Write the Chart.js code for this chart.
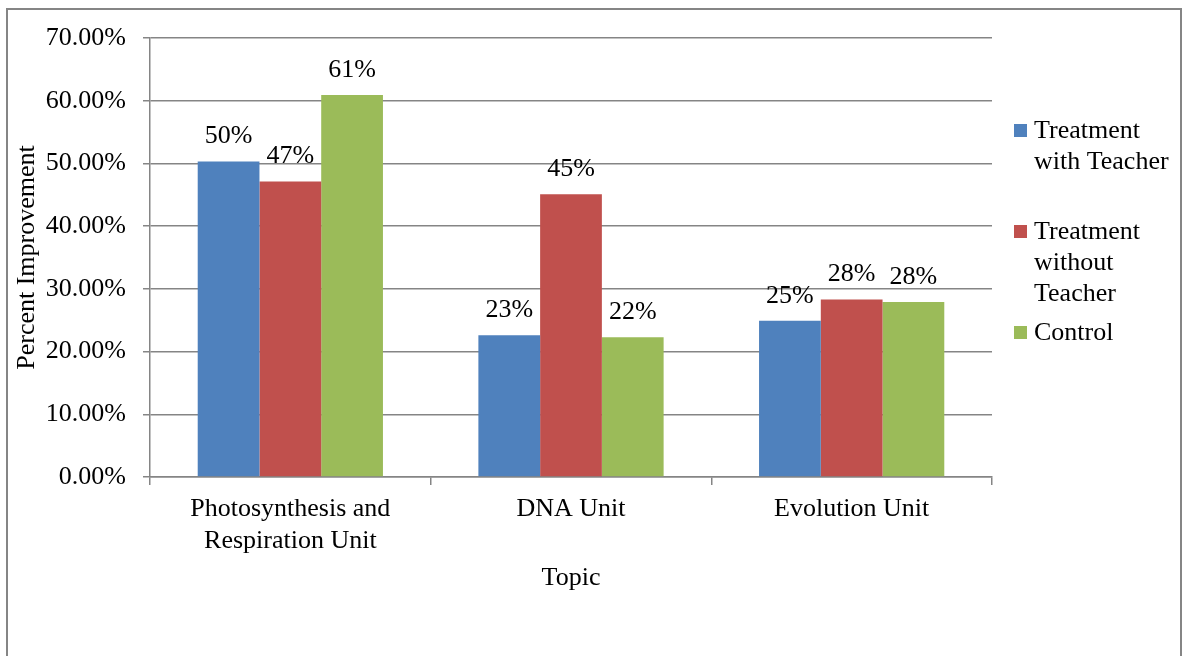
<!DOCTYPE html>
<html>
<head>
<meta charset="utf-8">
<script src="https://cdn.jsdelivr.net/npm/chart.js@4"></script>
<style>
    body { margin: 0; background: #fff; }
    #wrap { width: 1184px; height: 656px; position: relative; }
</style>
</head>
<body>
<div id="wrap"><canvas id="improvementChart"></canvas></div>
<script>
// data (percent improvement)
const topics = [['Photosynthesis and', 'Respiration Unit'], 'DNA Unit', 'Evolution Unit'];
const seriesNames = [['Treatment', 'with Teacher'], ['Treatment', 'without', 'Teacher'], ['Control']];
const withTeacher = [50.3, 22.6, 24.9];
const withoutTeacher = [47.1, 45.1, 28.3];
const control = [60.9, 22.3, 27.9];
const yTicks = [0, 10, 20, 30, 40, 50, 60, 70];

const colors = ['#4F81BD', '#C0504D', '#9BBB59'];
const serif = '"Liberation Serif", "Times New Roman", serif';
const axisGray = '#858585';

// frame, axis titles, bar labels and the wrapped legend
const extrasPlugin = {
    id: 'extras',
    beforeDraw(chart) {
        const ctx = chart.ctx;
        ctx.save();
        ctx.strokeStyle = axisGray;
        ctx.lineWidth = 2;
        ctx.strokeRect(7, 9, 1174, 700);
        ctx.restore();
    },
    afterDatasetsDraw(chart) {
        const ctx = chart.ctx;
        ctx.save();
        ctx.font = '26px ' + serif;
        ctx.fillStyle = '#000';
        ctx.textAlign = 'center';
        ctx.textBaseline = 'middle';
        chart.data.datasets.forEach((ds, i) => {
            chart.getDatasetMeta(i).data.forEach((bar, j) => {
                ctx.fillText(Math.round(ds.data[j]) + '%', bar.x, bar.y - 25);
            });
        });

        // axis titles
        const area = chart.chartArea;
        ctx.fillText('Topic', (area.left + area.right) / 2, 578);
        ctx.save();
        ctx.translate(27, (area.top + area.bottom) / 2);
        ctx.rotate(-Math.PI / 2);
        ctx.fillText('Percent Improvement', 0, 0);
        ctx.restore();

        // legend
        const legendTops = [131, 232, 333];
        ctx.textAlign = 'left';
        seriesNames.forEach((lines, i) => {
            const y0 = legendTops[i];
            ctx.fillStyle = colors[i];
            ctx.fillRect(1014, y0 - 7, 13, 13);
            ctx.fillStyle = '#000';
            lines.forEach((txt, k) => {
                ctx.fillText(txt, 1034, y0 + k * 31);
            });
        });
        ctx.restore();
    }
};

const ctx = document.getElementById('improvementChart').getContext('2d');
new Chart(ctx, {
    type: 'bar',
    data: {
        labels: topics,
        datasets: [
            { label: 'Treatment with Teacher', data: withTeacher, backgroundColor: colors[0] },
            { label: 'Treatment without Teacher', data: withoutTeacher, backgroundColor: colors[1] },
            { label: 'Control', data: control, backgroundColor: colors[2] }
        ]
    },
    options: {
        responsive: true,
        maintainAspectRatio: false,
        animation: false,
        layout: { padding: { left: 0, top: 38, right: 192, bottom: 0 } },
        datasets: {
            bar: { categoryPercentage: 0.66, barPercentage: 1.0 }
        },
        scales: {
            x: {
                afterFit: (scale) => { scale.height = 179; },
                grid: {
                    drawOnChartArea: false,
                    drawTicks: true,
                    tickLength: 8,
                    color: axisGray,
                    lineWidth: 1.5
                },
                border: { display: true, color: axisGray, width: 1.5 },
                ticks: {
                    color: '#000',
                    padding: 9,
                    maxRotation: 0,
                    font: { family: serif, size: 26 }
                }
            },
            y: {
                min: 0,
                max: 70,
                afterFit: (scale) => { scale.width = 150; },
                afterBuildTicks: (scale) => {
                    scale.ticks = yTicks.map(v => ({ value: v }));
                },
                grid: {
                    color: axisGray,
                    lineWidth: 1.5,
                    tickLength: 7
                },
                border: { display: true, color: axisGray, width: 1.5 },
                ticks: {
                    color: '#000',
                    padding: 17,
                    font: { family: serif, size: 26 },
                    callback: (value) => value.toFixed(2) + '%'
                }
            }
        },
        plugins: {
            legend: { display: false },
            tooltip: { enabled: false }
        }
    },
    plugins: [extrasPlugin]
});
</script>
</body>
</html>
